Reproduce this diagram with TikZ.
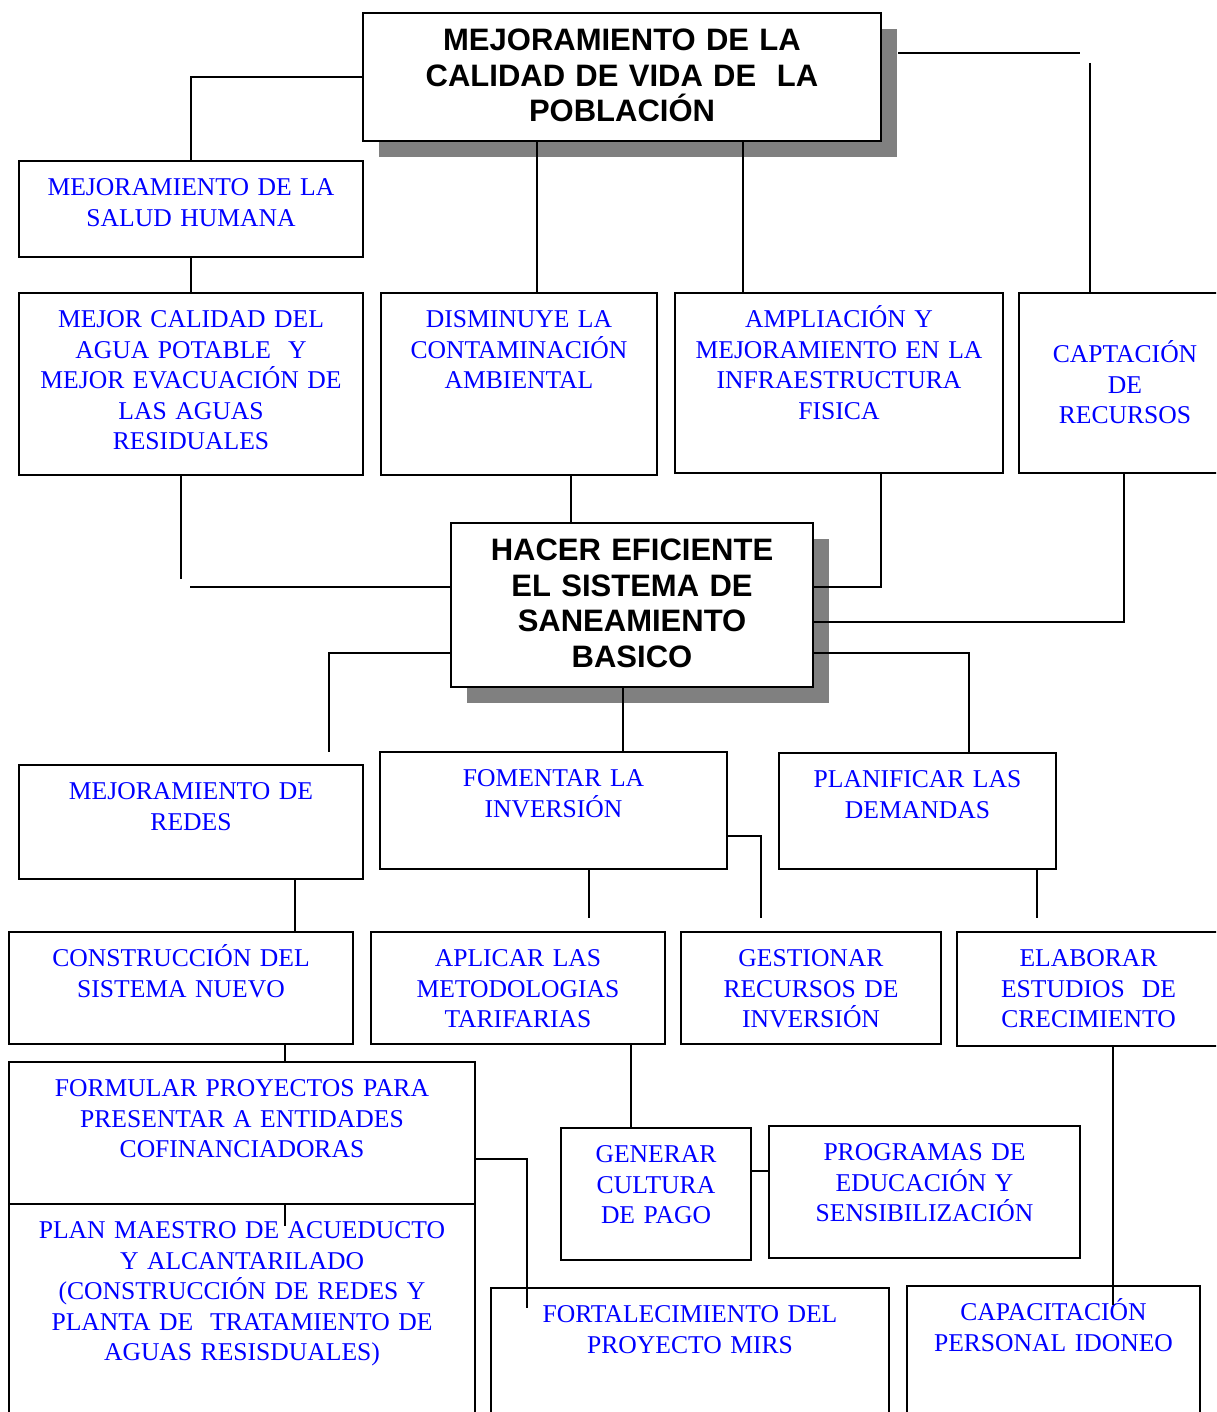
\documentclass[tikz,border=0pt]{standalone}
\usepackage{fontspec}
\setmainfont{Liberation Serif}
\newfontfamily\headfont{Liberation Sans}
\usetikzlibrary{positioning, fit, shadows}
\definecolor{inkblue}{HTML}{0000FF}
\definecolor{shadowgray}{HTML}{808080}
\definecolor{textdark}{HTML}{000000}

\begin{document}
\begin{tikzpicture}[x=0.5pt, y=-0.5pt,
    box/.style={rectangle, draw=textdark, line width=1pt, fill=white, inner sep=0pt},
    goal/.style={box, drop shadow={shadow xshift=8pt, shadow yshift=-8pt, opacity=1, fill=shadowgray}},
    txt/.style={anchor=north, align=center, inner sep=0pt, text width=220pt, yshift=-5.7pt,
      execute at begin node={\rule{0pt}{12pt}},
      font=\fontsize{12.8}{15.2}\selectfont, text=inkblue},
    head/.style={anchor=north, align=center, inner sep=0pt, text width=220pt, yshift=-4.2pt,
      execute at begin node={\rule{0pt}{15pt}},
      font=\headfont\bfseries\fontsize{15.5}{17.7}\selectfont, text=textdark},
    conn/.style={line width=1pt, textdark}]

    \useasboundingbox (0,0) rectangle (1216,1412);
    \clip (0,0) rectangle (1216,1412);

    % Main goal and its effects
    \node (top) [goal, fit={(363,13) (881,141)},
      label={[head]north:{MEJORAMIENTO DE LA\\CALIDAD DE VIDA DE~ LA\\POBLACIÓN}}] {};
    \node (salud) [box, fit={(19,161) (363,257)},
      label={[txt]north:{MEJORAMIENTO DE LA\\SALUD HUMANA}}] {};
    \node (calidad) [box, fit={(19,293) (363,475)},
      label={[txt]north:{MEJOR CALIDAD DEL\\AGUA POTABLE~ Y\\MEJOR EVACUACIÓN DE\\LAS AGUAS\\RESIDUALES}}] {};
    \node (disminuye) [box, fit={(381,293) (657,475)},
      label={[txt]north:{DISMINUYE LA\\CONTAMINACIÓN\\AMBIENTAL}}] {};
    \node (ampliacion) [box, fit={(675,293) (1003,473)},
      label={[txt]north:{AMPLIACIÓN Y\\MEJORAMIENTO EN LA\\INFRAESTRUCTURA\\FISICA}}] {};
    \node (captacion) [box, fit={(1019,293) (1231,473)},
      label={[txt, yshift=-17.5pt]north:{CAPTACIÓN\\DE\\RECURSOS}}] {};

    % Central objective
    \node (hacer) [goal, fit={(451,523) (813,687)},
      label={[head]north:{HACER EFICIENTE\\EL SISTEMA DE\\SANEAMIENTO\\BASICO}}] {};

    % Means
    \node (redes) [box, fit={(19,765) (363,879)},
      label={[txt]north:{MEJORAMIENTO DE\\REDES}}] {};
    \node (fomentar) [box, fit={(380,752) (727,869)},
      label={[txt]north:{FOMENTAR LA\\INVERSIÓN}}] {};
    \node (planificar) [box, fit={(779,753) (1056,869)},
      label={[txt]north:{PLANIFICAR LAS\\DEMANDAS}}] {};
    \node (construccion) [box, fit={(9,932) (353,1044)},
      label={[txt]north:{CONSTRUCCIÓN DEL\\SISTEMA NUEVO}}] {};
    \node (aplicar) [box, fit={(371,932) (665,1044)},
      label={[txt]north:{APLICAR LAS\\METODOLOGIAS\\TARIFARIAS}}] {};
    \node (gestionar) [box, fit={(681,932) (941,1044)},
      label={[txt]north:{GESTIONAR\\RECURSOS DE\\INVERSIÓN}}] {};
    \node (elaborar) [box, fit={(957,932) (1220,1046)},
      label={[txt]north:{ELABORAR\\ESTUDIOS~ DE\\CRECIMIENTO}}] {};
    \node (formular) [box, fit={(9,1062) (475,1204)},
      label={[txt]north:{FORMULAR PROYECTOS PARA\\PRESENTAR A ENTIDADES\\COFINANCIADORAS}}] {};
    \node (plan) [box, fit={(9,1204) (475,1440)},
      label={[txt]north:{PLAN MAESTRO DE ACUEDUCTO\\Y ALCANTARILADO\\(CONSTRUCCIÓN DE REDES Y\\PLANTA DE~ TRATAMIENTO DE\\AGUAS RESISDUALES)}}] {};
    \node (generar) [box, fit={(561,1128) (751,1260)},
      label={[txt]north:{GENERAR\\CULTURA\\DE PAGO}}] {};
    \node (programas) [box, fit={(769,1126) (1080,1258)},
      label={[txt]north:{PROGRAMAS DE\\EDUCACIÓN Y\\SENSIBILIZACIÓN}}] {};
    \node (mirs) [box, fit={(491,1288) (889,1440)},
      label={[txt]north:{FORTALECIMIENTO DEL\\PROYECTO MIRS}}] {};
    \node (capacitacion) [box, fit={(907,1286) (1200,1440)},
      label={[txt]north:{CAPACITACIÓN\\PERSONAL IDONEO}}] {};

    % Free ends of the broken connectors
    \coordinate (topout) at (898,53);
    \coordinate (topbend) at (1080,53);
    \coordinate (capin) at (1090,63);
    \coordinate (calidadend) at (181,579);
    \coordinate (hacerleft) at (190,587);
    \coordinate (redesend) at (329,752);
    \coordinate (aplicarend) at (589,918);
    \coordinate (gestionend) at (761,918);
    \coordinate (elaborarend) at (1037,918);
    \coordinate (planstub) at (285,1226);
    \coordinate (mirsend) at (527,1308);
    \coordinate (capend) at (1113,1305);

    % Connections, upper half
    \draw[conn] (top.west) -| (salud.north);
    \draw[conn] (salud) -- (calidad);
    \draw[conn] (top.south -| 537,0) -- (disminuye.north -| 537,0);
    \draw[conn] (top.south -| 743,0) -- (ampliacion.north -| 743,0);
    \draw[conn] (topout) -- (topbend);
    \draw[conn] (capin) -- (captacion.north -| capin);
    \draw[conn] (calidad.south -| calidadend) -- (calidadend);
    \draw[conn] (hacer.west |- hacerleft) -- (hacerleft);
    \draw[conn] (disminuye.south -| 571,0) -- (hacer.north -| 571,0);
    \draw[conn] (hacer.east |- 0,587) -| (ampliacion.south -| 881,0);
    \draw[conn] (hacer.east |- 0,622) -| (captacion.south -| 1124,0);
    \draw[conn] (hacer.east |- 0,653) -| (planificar.north -| 969,0);
    \draw[conn] (hacer.west |- 0,653) -| (redesend);
    \draw[conn] (hacer.south -| 623,0) -- (fomentar.north -| 623,0);

    % Connections, lower half
    \draw[conn] (redes.south -| 295,0) -- (construccion.north -| 295,0);
    \draw[conn] (fomentar.south -| aplicarend) -- (aplicarend);
    \draw[conn] (fomentar.east |- 0,836) -| (gestionend);
    \draw[conn] (planificar.south -| elaborarend) -- (elaborarend);
    \draw[conn] (construccion.south -| 285,0) -- (formular.north -| 285,0);
    \draw[conn] (aplicar.south -| 631,0) -- (generar.north -| 631,0);
    \draw[conn] (generar.east |- 0,1171) -- (programas.west |- 0,1171);
    \draw[conn] (formular.east |- 0,1159) -| (mirsend);
    \draw[conn] (formular.south -| planstub) -- (planstub);
    \draw[conn] (elaborar.south -| capend) -- (capend);
\end{tikzpicture}
\end{document}
